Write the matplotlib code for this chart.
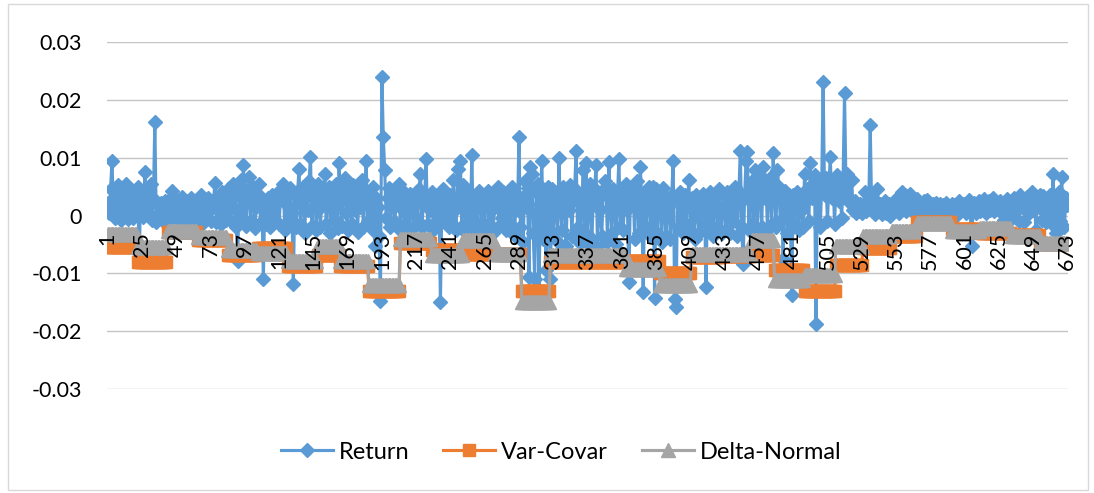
import numpy as np
import matplotlib.pyplot as plt
from matplotlib.patches import Rectangle

# daily return, in units of 1e-4 (one row = 24 observations, first row starts at 1)
ret_e4 = [
    22, 5, 45, 95, 10, -5, 38, 52, 12, -8, 30, 48, 2, 55, -6, 25, 40, 8, -4, 35, 18, 50, -78, 30,
    42, -3, 75, 20, 48, 5, 55, -8, 30, 161, -12, 18, -5, 22, 8, -10, 25, 12, -6, 20, 30, 43, -2, 15,
    28, -8, 20, 5, 32, -12, 18, 25, -4, 10, 30, -10, 22, 15, -6, 28, 3, 35, -14, 12, 24, -5, 30, 8,
    -10, 25, 18, 57, -12, 30, 10, -15, 40, 5, 22, -8, 35, 48, -10, 28, 55, 12, -20, -78, 40, 62, -5, 87,
    20, -18, 45, 66, -10, 30, 50, -22, 15, 38, 55, -12, 20, -109, 25, -15, 30, 8, -20, 35, 12, -8, 28, 40,
    -15, 30, 45, 55, -25, 20, 38, -10, 48, 5, -118, 35, -20, 42, 81, -15, 25, 50, -30, 45, 10, 60, 101, -18,
    30, 47, -25, 55, 12, -20, 40, 28, 72, -15, 35, 50, -30, 20, 45, -8, 55, -22, 90, 30, -18, 48, 64, 5,
    -25, 40, 20, -15, 52, 10, 35, -28, 45, 15, 61, -20, 30, 95, -10, 40, 25, -23, 50, -52, 30, 15, -35, -147,
    239, 135, 78, -5, 30, 47, -20, 25, 40, -12, 18, 35, 55, -25, 44, 10, -15, 30, 22, -30, 38, 5, 25, -18,
    30, -10, 45, 72, -20, 20, 35, 97, -15, 28, 10, 40, -25, 30, 15, -10, 35, -150, 20, 45, -12, 30, 8, -20,
    35, -15, 61, 10, -25, 80, 20, 95, -18, 53, 28, -30, 40, 15, -10, 104, -20, 30, 12, -28, 43, 25, -12, 35,
    -20, 30, 43, -15, 25, 10, -30, 35, 20, 50, -18, 28, -5, 40, 15, -25, 30, 8, -15, 50, 20, -35, 38, 10,
    135, -20, 30, -45, 60, 15, 48, -107, 83, 72, -30, -110, 40, 55, -128, 20, 95, -40, 35, -95, 50, 10, -110, 45,
    -30, 40, 20, -45, 99, 15, -25, 50, 30, -52, 40, 10, 53, -35, 25, 45, 112, -20, 35, -48, 20, 78, -30, 90,
    -50, 30, 55, -40, 20, 45, 88, -55, 30, 10, -35, 40, 60, 50, -45, 93, 15, -30, 45, 25, -50, 35, 97, -20,
    40, -25, 30, 55, 10, -115, 35, 20, 47, -40, 30, 60, -30, 83, 25, -133, 40, -20, 30, 50, -35, 20, 50, -142,
    45, -30, 25, 40, -45, 47, 10, -35, 30, 20, -40, 35, 95, -145, -158, 30, -20, 40, 15, -30, 35, -15, 25, 61,
    -25, 30, 15, -40, 35, 20, -30, 25, -10, 38, 15, -124, 30, -25, 40, 10, -35, 35, 20, -20, 45, 5, -30, 38,
    15, -25, 40, 20, -30, 35, -10, 50, 25, -35, 40, 112, -20, -83, 30, 95, 109, -25, 45, 60, -15, 78, 20, -30,
    55, 70, -20, 83, 30, 60, -25, 45, 65, -15, 108, 40, -20, 78, 50, -10, 35, -75, 43, 20, -30, 35, 10, -138,
    35, -15, 21, 40, -25, 30, 10, -20, 72, 25, 45, -10, 90, 30, 55, 70, -187, 40, 60, -20, 50, 230, 35, 65,
    -10, 45, 101, 30, 60, -15, 50, 70, 25, 40, -5, 65, 211, 55, 72, 30, 21, 61, 10, 25, 5, 15, 8, 20,
    5, 12, 41, 8, 15, 25, 156, 10, 30, 2, 18, 45, 8, 20, 3, 15, 25, 5, 12, 20, 0, 15, 8, 22,
    10, 30, 5, 20, 41, 12, 35, 8, 25, 15, 38, 10, 22, 5, 18, 28, 10, 20, 5, 15, 25, 8, 26, 12,
    18, 5, 20, 12, 22, 3, 15, 20, 8, 18, 2, 22, 10, 15, 5, 20, 12, 18, 0, 15, 25, 8, 18, 12,
    20, 5, 15, 26, 10, -52, 15, 22, 5, 18, 25, 8, 20, 12, 28, 5, 18, 25, 10, 20, 30, 8, 22, 15,
    10, 25, 5, 20, -8, 15, 29, 10, 22, -5, 18, 30, 8, 25, -10, 36, 15, 28, -12, 20, 32, 5, 25, 41,
    10, 30, -25, 25, 15, 35, -8, 33, 20, -12, 28, 10, 35, -15, 72, 5, -30, 25, 40, -10, 66, 15, -20, 30,
    19,
]

# VaR estimates stay constant over each period: period lengths and levels (1e-4)
seg_len = [21, 21, 21, 21, 21, 21, 21, 16, 20, 22, 22, 22, 22, 19, 20, 25,
           28, 24, 22, 21, 21, 16, 21, 22, 19, 20, 18, 24, 20, 22, 20, 20]
varcovar_e4 = [-55, -80, -29, -42, -69, -57, -87, -68, -88, -131, -48, -60, -66, -66, -131, -81,
               -80, -78, -99, -72, -70, -68, -95, -131, -85, -57, -35, -11, -23, -30, -34, -50]
deltanorm_e4 = [-32, -54, -26, -37, -60, -64, -78, -52, -78, -121, -40, -68, -43, -66, -149, -69,
                -69, -93, -121, -67, -66, -43, -112, -103, -52, -36, -26, -13, -26, -22, -36, -48]

y_ticks = [0.03, 0.02, 0.01, 0, -0.01, -0.02, -0.03]
y_labels = ['0.03', '0.02', '0.01', '0', '-0.01', '-0.02', '-0.03']

ret = np.array(ret_e4) / 1e4
n = len(ret)
x = np.arange(1, n + 1)
var_covar = np.repeat(varcovar_e4, seg_len) / 1e4
delta_normal = np.repeat(deltanorm_e4, seg_len) / 1e4
x_var = np.arange(1, len(var_covar) + 1)

plt.rcParams['font.family'] = ['Lato', 'DejaVu Sans']
fs = 15.5

fig = plt.figure(figsize=(10.94, 4.93), dpi=100)
ax = fig.add_axes([107 / 1094, 1 - 389 / 493, 961 / 1094, 347 / 493])

ax.plot(x, ret, color='#5b9bd5', lw=2.25, marker='D', ms=6.8, label='Return', zorder=2)
ax.plot(x_var, var_covar, color='#ed7d31', lw=2.25, marker='s', ms=9, label='Var-Covar', zorder=3)
ax.plot(x_var, delta_normal, color='#a5a5a5', lw=2.25, marker='^', ms=9.5, label='Delta-Normal', zorder=4)

ax.set_xlim(0.5, n + 0.5)
ax.set_ylim(-0.03, 0.03)
ax.set_yticks(y_ticks)
ax.set_yticklabels(y_labels)
ax.grid(axis='y', color='#c4c4c4', lw=1)
ax.set_axisbelow(True)
for s in ax.spines.values():
    s.set_visible(False)
ax.spines['bottom'].set_position(('data', 0))

x_ticks = np.arange(1, n + 1, 24)
ax.set_xticks(x_ticks)
ax.set_xticklabels([str(t) for t in x_ticks], rotation=90)
ax.tick_params(axis='x', length=0, pad=12, labelsize=fs)
ax.tick_params(axis='y', length=0, pad=18, labelsize=fs)
ax.xaxis.set_zorder(5)

fig.legend(loc='center', bbox_to_anchor=(0.513, 0.083), ncol=3, frameon=False,
           fontsize=17, handlelength=2.2, handletextpad=0.25, columnspacing=1.45)

fig.patches.append(Rectangle((8 / 1094, 3 / 493), 1080 / 1094, 486 / 493, transform=fig.transFigure,
                             fill=False, edgecolor='#d9d9d9', lw=1))

fig.savefig('out.png', dpi=100)
